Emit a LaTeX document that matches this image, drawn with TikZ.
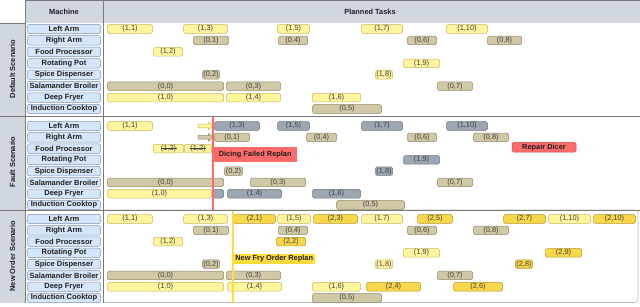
\documentclass[tikz,border=0pt]{standalone}
\usepackage{fontspec}
\setmainfont{Liberation Sans}
\definecolor{ylfill}{HTML}{FFF59E}
\definecolor{yldraw}{HTML}{C9B658}
\definecolor{tnfill}{HTML}{D1C8A6}
\definecolor{tndraw}{HTML}{8E8665}
\definecolor{grfill}{HTML}{9DA6B3}
\definecolor{grdraw}{HTML}{6C7582}
\definecolor{gdfill}{HTML}{F8D84A}
\definecolor{gddraw}{HTML}{B39A24}
\definecolor{machfill}{HTML}{D6E6FA}
\definecolor{machdraw}{HTML}{7F95B6}
\definecolor{hdrfill}{HTML}{D1D7DF}
\definecolor{secline}{HTML}{7A7A7A}
\definecolor{txt}{HTML}{404040}
\definecolor{labtxt}{HTML}{1E1E1E}
\definecolor{redc}{HTML}{FF6B6B}
\definecolor{redd}{HTML}{C44A4A}
\definecolor{goldc}{HTML}{FFDC3C}
\newcommand\mytask[6]{\node[task,#5,minimum width={#3-#2-1}] (#1) at ({(#2+#3)/2},#4) {#6};}
\newcommand\mymach[3]{\node[mach] (#1) at (64,#2) {#3};}
\begin{document}
\begin{tikzpicture}[x=1pt,y=-1pt,
  task/.style={draw, rounded corners=1.5pt, minimum height=8.6pt, inner sep=0pt,
    font=\fontsize{7.4}{8}\selectfont, text=txt, line width=0.5pt},
  yl/.style={fill=ylfill, draw=yldraw},
  tn/.style={fill=tnfill, draw=tndraw},
  gr/.style={fill=grfill, draw=grdraw},
  gd/.style={fill=gdfill, draw=gddraw},
  mach/.style={draw=machdraw, fill=machfill, rounded corners=2pt, minimum width=73pt,
    minimum height=9.4pt, inner sep=0pt, line width=0.5pt,
    font=\bfseries\fontsize{7.5}{8}\selectfont, text=labtxt},
  hdr/.style={font=\bfseries\fontsize{7.4}{8}\selectfont, text=labtxt},
  scen/.style={rotate=90, font=\bfseries\fontsize{7.4}{8}\selectfont, text=labtxt},
  sline/.style={draw=secline, line width=0.7pt},
  strike/.style={draw=txt, line width=0.45pt},
  replan/.style={font=\bfseries\fontsize{7.4}{8}\selectfont, text=labtxt, inner sep=0pt, anchor=west}
]
\useasboundingbox (0,0) rectangle (640,306);
% backgrounds
\fill[hdrfill] (25,0) rectangle (640,23);
\fill[hdrfill] (0,23) rectangle (25,303);
\draw[draw=hdrfill!70!gray, line width=0.6pt, rounded corners=3pt] (103,210) -- (638,210) -- (638,302.5) -- (103,302.5);
% grid lines
\draw[sline] (25,0.4) -- (640,0.4);
\draw[sline] (0,23) -- (25,23);
\draw[sline] (0,116.5) -- (640,116.5);
\draw[sline] (0,210) -- (640,210);
\draw[sline] (25,0) -- (25,303);
\draw[sline] (103,0) -- (103,303);
% headers
\node[hdr] (hmach) at (64,11.5) {Machine};
\node[hdr] (htask) at (370,11.5) {Planned Tasks};
\node[scen] (s1) at (12.5,69) {Default Scenario};
\node[scen] (s2) at (12.5,162) {Fault Scenario};
\node[scen] (s3) at (12.5,256) {New Order Scenario};
% machine labels
\mymach{dla}{29}{Left Arm}
\mymach{dra}{40.4}{Right Arm}
\mymach{dfp}{51.9}{Food Processor}
\mymach{drp}{63.3}{Rotating Pot}
\mymach{dsd}{74.7}{Spice Dispenser}
\mymach{dsb}{86.1}{Salamander Broiler}
\mymach{ddf}{97.6}{Deep Fryer}
\mymach{dic}{109}{Induction Cooktop}
\mymach{fla}{126}{Left Arm}
\mymach{fra}{137.3}{Right Arm}
\mymach{ffp}{148.6}{Food Processor}
\mymach{frp}{159.9}{Rotating Pot}
\mymach{fsd}{171.1}{Spice Dispenser}
\mymach{fsb}{182.4}{Salamander Broiler}
\mymach{fdf}{193.7}{Deep Fryer}
\mymach{fic}{205}{Induction Cooktop}
\mymach{nla}{219}{Left Arm}
\mymach{nra}{230.3}{Right Arm}
\mymach{nfp}{241.6}{Food Processor}
\mymach{nrp}{252.9}{Rotating Pot}
\mymach{nsd}{264.1}{Spice Dispenser}
\mymach{nsb}{275.4}{Salamander Broiler}
\mymach{ndf}{286.7}{Deep Fryer}
\mymach{nic}{298}{Induction Cooktop}
% ---------- Default scenario
\mytask{d11}{107}{153}{29}{yl}{(1,1)}
\mytask{d13}{183}{228}{29}{yl}{(1,3)}
\mytask{d15}{277}{310}{29}{yl}{(1,5)}
\mytask{d17}{361}{403}{29}{yl}{(1,7)}
\mytask{d110}{446}{488}{29}{yl}{(1,10)}
\mytask{d01}{193}{229}{40.4}{tn}{(0,1)}
\mytask{d04}{278}{308}{40.4}{tn}{(0,4)}
\mytask{d06}{407}{437}{40.4}{tn}{(0,6)}
\mytask{d08}{487}{522}{40.4}{tn}{(0,8)}
\mytask{d12}{153}{183}{51.9}{yl}{(1,2)}
\mytask{d19}{403}{440}{63.3}{yl}{(1,9)}
\mytask{d02}{202}{220}{74.7}{tn}{(0,2)}
\mytask{d18}{375}{393}{74.7}{yl}{(1,8)}
\mytask{d00}{107}{224}{86.1}{tn}{(0,0)}
\mytask{d03}{226}{281}{86.1}{tn}{(0,3)}
\mytask{d07}{437}{473}{86.1}{tn}{(0,7)}
\mytask{d10}{107}{224}{97.6}{yl}{(1,0)}
\mytask{d14}{226}{281}{97.6}{yl}{(1,4)}
\mytask{d16}{312}{361}{97.6}{yl}{(1,6)}
\mytask{d05}{312}{382}{109}{tn}{(0,5)}
% ---------- Fault scenario
\mytask{f11}{107}{153}{126}{yl}{(1,1)}
\filldraw[fill=ylfill, draw=yldraw, line width=0.5pt] (198,124.2) -- (208.5,124.2) -- (208.5,122) -- (213,126) -- (208.5,130) -- (208.5,127.8) -- (198,127.8) -- cycle;
\mytask{f13}{214}{260}{126}{gr}{(1,3)}
\mytask{f15}{277}{310}{126}{gr}{(1,5)}
\mytask{f17}{361}{403}{126}{gr}{(1,7)}
\mytask{f110}{446}{488}{126}{gr}{(1,10)}
\filldraw[fill=tnfill, draw=tndraw, line width=0.5pt] (198,135.5) -- (208.5,135.5) -- (208.5,133.3) -- (213,137.3) -- (208.5,141.3) -- (208.5,139.1) -- (198,139.1) -- cycle;
\mytask{f01}{214}{250}{137.3}{tn}{(0,1)}
\mytask{f04}{306}{337}{137.3}{tn}{(0,4)}
\mytask{f06}{407}{437}{137.3}{tn}{(0,6)}
\mytask{f08}{473}{509}{137.3}{tn}{(0,8)}
\mytask{f12a}{153}{184}{148.6}{yl}{(1,2)}
\mytask{f12b}{184}{212}{148.6}{yl}{(1,2)}
\draw[strike] ([xshift=-8pt,yshift=0.3pt]f12a.center) -- ([xshift=8pt,yshift=0.3pt]f12a.center);
\draw[strike] ([xshift=-8pt,yshift=0.3pt]f12b.center) -- ([xshift=8pt,yshift=0.3pt]f12b.center);
\node[draw=redd, fill=redc, rounded corners=1.5pt, minimum width=64pt, minimum height=9.6pt, inner sep=0pt, line width=0.5pt, font=\bfseries\fontsize{7.4}{8}\selectfont, text=labtxt] (repair) at (544,147.2) {Repair Dicer};
\mytask{f19}{403}{440}{159.9}{gr}{(1,9)}
\mytask{f02}{224}{243}{171.1}{tn}{(0,2)}
\mytask{f18}{375}{393}{171.1}{gr}{(1,8)}
\mytask{f00}{107}{224}{182.4}{tn}{(0,0)}
\mytask{f03}{250}{306}{182.4}{tn}{(0,3)}
\mytask{f07}{437}{473}{182.4}{tn}{(0,7)}
\mytask{f10}{107}{212}{193.7}{yl}{(1,0)}
\mytask{fgap}{213}{224}{193.7}{gr}{}
\mytask{f14}{227}{282}{193.7}{gr}{(1,4)}
\mytask{f16}{312}{361}{193.7}{gr}{(1,6)}
\mytask{f05}{336}{405}{205}{tn}{(0,5)}
% fault replan marker
\coordinate (redtop) at (213,117);
\coordinate (redbot) at (213,210);
\node[replan, fill=redc, minimum width=84pt, minimum height=15pt, inner xsep=4.5pt] (dicing) at (213,154.5) {Dicing Failed Replan};
\draw[redc, line width=1.6pt] (redtop) -- (redbot);
% ---------- New order scenario
\mytask{n11}{107}{153}{219}{yl}{(1,1)}
\mytask{n13}{183}{228}{219}{yl}{(1,3)}
\mytask{n21}{233}{276}{219}{gd}{(2,1)}
\mytask{n15}{277}{311}{219}{yl}{(1,5)}
\mytask{n23}{313}{358}{219}{gd}{(2,3)}
\mytask{n17}{361}{403}{219}{yl}{(1,7)}
\mytask{n25}{417}{453}{219}{gd}{(2,5)}
\mytask{n27}{503}{546}{219}{gd}{(2,7)}
\mytask{n110}{548}{591}{219}{yl}{(1,10)}
\mytask{n210}{593}{636}{219}{gd}{(2,10)}
\mytask{n01}{193}{229}{230.3}{tn}{(0,1)}
\mytask{n04}{278}{308}{230.3}{tn}{(0,4)}
\mytask{n06}{407}{437}{230.3}{tn}{(0,6)}
\mytask{n08}{473}{509}{230.3}{tn}{(0,8)}
\mytask{n12}{153}{183}{241.6}{yl}{(1,2)}
\mytask{n22}{276}{306}{241.6}{gd}{(2,2)}
\mytask{n19}{403}{440}{252.9}{yl}{(1,9)}
\mytask{n29}{545}{582}{252.9}{gd}{(2,9)}
\mytask{n02}{202}{220}{264.1}{tn}{(0,2)}
\mytask{n18}{375}{393}{264.1}{yl}{(1,8)}
\mytask{n28}{515}{533}{264.1}{gd}{(2,8)}
\mytask{n00}{107}{224}{275.4}{tn}{(0,0)}
\mytask{n03}{226}{281}{275.4}{tn}{(0,3)}
\mytask{n07}{437}{473}{275.4}{tn}{(0,7)}
\mytask{n10}{107}{224}{286.7}{yl}{(1,0)}
\mytask{n14}{227}{282}{286.7}{yl}{(1,4)}
\mytask{n16}{312}{361}{286.7}{yl}{(1,6)}
\mytask{n24}{366}{421}{286.7}{gd}{(2,4)}
\mytask{n26}{453}{503}{286.7}{gd}{(2,6)}
\mytask{n05}{312}{382}{298}{tn}{(0,5)}
% new order replan marker
\coordinate (goldtop) at (233,211);
\coordinate (goldbot) at (233,302.5);
\node[replan, fill=goldc, minimum width=82pt, minimum height=10.5pt, inner xsep=1.5pt] (newfry) at (233,259) {New Fry Order Replan};
\draw[goldc, line width=1.6pt] (goldtop) -- (goldbot);
\end{tikzpicture}
\end{document}
